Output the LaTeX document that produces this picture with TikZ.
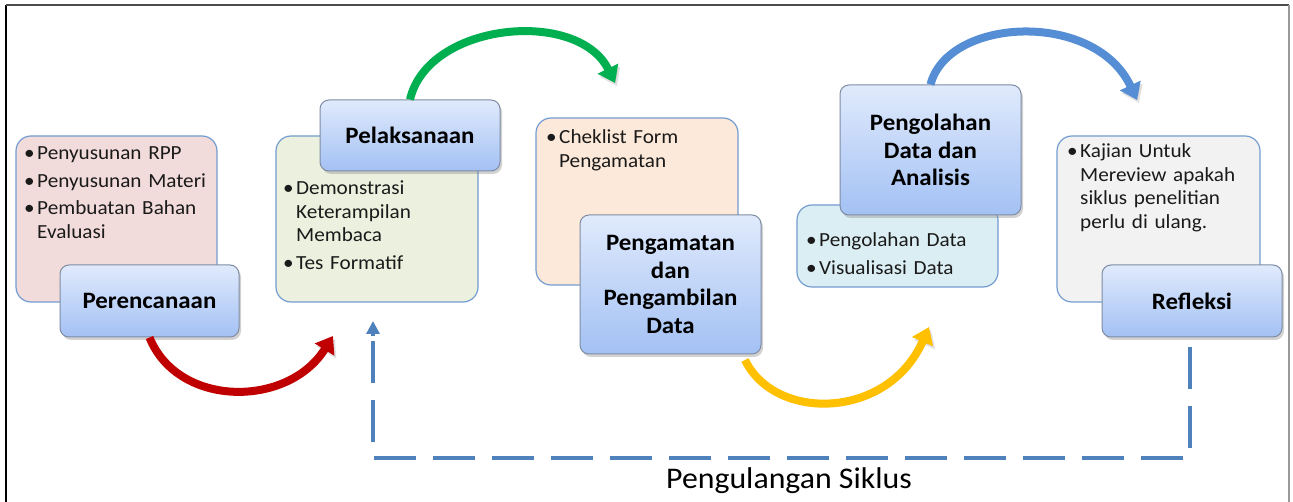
\documentclass[tikz,border=0pt]{standalone}
\usepackage{fontspec}
\setmainfont{Carlito}[FakeStretch=1.06]
\usetikzlibrary{arrows.meta,shadows,calc}
\definecolor{detborder}{HTML}{739CD0}
\definecolor{titleborder}{HTML}{7F8CA3}
\definecolor{titletop}{HTML}{E0EAFC}
\definecolor{titlebot}{HTML}{A3C1F4}
\definecolor{fillpink}{HTML}{F2DCDB}
\definecolor{fillgreen}{HTML}{EBF1DE}
\definecolor{fillpeach}{HTML}{FDE9D9}
\definecolor{fillcyan}{HTML}{DBEEF3}
\definecolor{fillgray}{HTML}{F2F2F2}
\definecolor{arrred}{HTML}{C00000}
\definecolor{arrgreen}{HTML}{00B050}
\definecolor{arryellow}{HTML}{FFC000}
\definecolor{arrblue}{HTML}{558ED5}
\definecolor{loopblue}{HTML}{4F81BD}
\definecolor{txt}{HTML}{1A1A1A}
\newcommand\bitem[1]{\setlength{\parskip}{4pt}\hangindent=14pt\hangafter=1\noindent\makebox[14pt][l]{\hspace{1pt}\textbullet}#1\par}
\begin{document}
\begin{tikzpicture}[x=1pt,y=-1pt,
  detail/.style={draw=detborder, line width=1.2pt, rounded corners=15pt, inner sep=0pt},
  titlebox/.style={draw=titleborder, line width=1pt, rounded corners=9pt, top color=titletop, bottom color=titlebot,
     drop shadow={shadow xshift=2pt, shadow yshift=-3pt, opacity=0.35},
     font=\fontsize{23.5}{27.5}\selectfont\bfseries, align=center, inner sep=0pt, text=black},
  listtext/.style={anchor=base west, inner sep=0pt, text=txt, font=\fontsize{20}{23.5}\selectfont},
  bigarrow/.style={line width=8pt, -{Triangle[length=16pt,width=22pt]},
     preaction={draw=black, opacity=0.12, transform canvas={shift={(2pt,-3pt)}}}},
  looparrow/.style={draw=loopblue, line width=4pt, dash pattern=on 42pt off 17pt},
  looptip/.style={draw=loopblue, line width=4pt, -{Triangle[length=13pt,width=13pt]}}
]
\useasboundingbox (0,0) rectangle (1293,502);
\fill[white] (0,0) rectangle (1293,502);
% frame
\draw[black, line width=1.6pt] (6,502) -- (6,5);
\draw[black!70, line width=1.4pt] (6,5) -- (1289,5);
\draw[black!40, line width=1.2pt] (1289,5) -- (1289,502);

% detail boxes
\node[detail, fill=fillpink,  minimum width=201pt, minimum height=166pt] (det1) at (116.5,219) {};
\node[detail, fill=fillgreen, minimum width=202pt, minimum height=166pt] (det2) at (377,219) {};
\node[detail, fill=fillpeach, minimum width=202pt, minimum height=167pt] (det3) at (637,201.5) {};
\node[detail, fill=fillcyan,  minimum width=201pt, minimum height=82pt] (det4) at (897.5,246) {};
\node[detail, fill=fillgray,  minimum width=203pt, minimum height=166pt] (det5) at (1158.5,219) {};

% list texts
\node[listtext, text width=188pt] (l1) at (23,160) {\bitem{Penyusunan RPP}\bitem{Penyusunan Materi}\bitem{Pembuatan Bahan\newline Evaluasi}};
\node[listtext, text width=188pt] (l2) at (282,195) {\bitem{Demonstrasi\newline Keterampilan\newline Membaca}\bitem{Tes Formatif}};
\node[listtext, text width=188pt] (l3) at (545,144) {\bitem{Cheklist Form\newline Pengamatan}};
\node[listtext, text width=188pt] (l4) at (805,247) {\bitem{Pengolahan Data}\bitem{Visualisasi Data}};
\node[listtext, text width=188pt] (l5) at (1066,158) {\bitem{Kajian Untuk\newline Mereview apakah\newline siklus penelitian\newline perlu di ulang.}};

% title boxes
\node[titlebox, minimum width=179pt, minimum height=72pt] (per) at (149.5,301) {Perencanaan};
\node[titlebox, minimum width=180pt, minimum height=71pt] (pel) at (410,135.5) {Pelaksanaan};
\node[titlebox, minimum width=181pt, minimum height=139pt] (pen) at (670.5,284.5) {Pengamatan\\dan\\Pengambilan\\Data};
\node[titlebox, minimum width=181pt, minimum height=130pt] (pgo) at (930.5,150) {Pengolahan\\Data dan\\Analisis};
\node[titlebox, minimum width=180pt, minimum height=72pt] (ref) at (1192,301) {Refleksi};

% curved arrows
\coordinate (redtip) at (333,336);
\coordinate (greentip) at (615,83);
\coordinate (yelstart) at (745,360);
\coordinate (yeltip) at (929,327);
\coordinate (bluetip) at (1137,100);
\draw[bigarrow, arrred] (per.south) .. controls (178,408) and (288,408) .. (redtip);
\draw[bigarrow, arrgreen] (pel.north) .. controls (428,22) and (578,8) .. (greentip);
\draw[bigarrow, arryellow] (yelstart) .. controls (775,422) and (888,420) .. (yeltip);
\draw[bigarrow, arrblue] (pgo.north) .. controls (948,17) and (1095,10) .. (bluetip);

% loop back dashed connector
\coordinate (loopstart) at (1190,347);
\coordinate (loopc1) at (1190,458);
\coordinate (loopc2) at (373,458);
\coordinate (loopend) at (373,321);
\draw[looparrow] (loopstart) -- (loopc1) -- (loopc2) -- (373,340);
\draw[looptip] (373,336) -- (loopend);
\node[font=\fontsize{30}{32}\selectfont, text=black, inner sep=0pt, anchor=base] (lbl) at (789,488) {Pengulangan Siklus};
\end{tikzpicture}
\end{document}
